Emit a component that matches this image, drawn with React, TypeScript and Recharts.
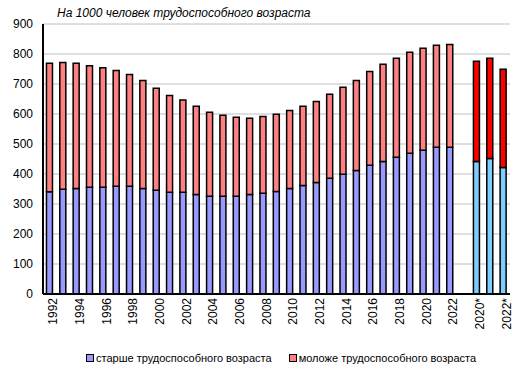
import { Bar, BarChart, CartesianGrid, Legend, XAxis, YAxis } from "recharts";

const categories = [
  "1992", "1993", "1994", "1995", "1996", "1997", "1998", "1999", "2000", "2001",
  "2002", "2003", "2004", "2005", "2006", "2007", "2008", "2009", "2010", "2011",
  "2012", "2013", "2014", "2015", "2016", "2017", "2018", "2019", "2020", "2021",
  "2022", "", "2020*", "2021*", "2022*",
];

// старше трудоспособного возраста (1992–2022)
const olderValues = [
  341, 349, 352, 356, 356, 359, 359, 352, 346, 339,
  339, 332, 326, 326, 326, 332, 336, 342, 352, 362,
  372, 386, 399, 412, 429, 442, 456, 469, 479, 489,
  489,
];

// моложе трудоспособного возраста (1992–2022)
const youngerValues = [
  428, 423, 417, 405, 398, 386, 373, 360, 340, 323,
  308, 294, 280, 270, 263, 254, 256, 257, 260, 264,
  270, 280, 290, 300, 313, 324, 330, 337, 340, 340,
  343,
];

// 2020*–2022*
const olderStarValues = [442, 452, 422];
const youngerStarValues = [334, 334, 327];

const yTicks = [0, 100, 200, 300, 400, 500, 600, 700, 800, 900];

const FONT = "'Liberation Sans', Arial, sans-serif";

const chartData = categories.map((year, i) => {
  const starIndex = i - 32;
  return {
    year,
    older: i < olderValues.length ? olderValues[i] : null,
    younger: i < youngerValues.length ? youngerValues[i] : null,
    olderStar: starIndex >= 0 ? olderStarValues[starIndex] : null,
    youngerStar: starIndex >= 0 ? youngerStarValues[starIndex] : null,
  };
});

const legendItems = [
  { label: "старше трудоспособного возраста", color: "#9999ff" },
  { label: "моложе трудоспособного возраста", color: "#ff8080" },
];

function ChartLegend() {
  return (
    <div
      style={{
        height: 28,
        display: "flex",
        justifyContent: "flex-start",
        alignItems: "center",
        paddingLeft: 86,
        gap: 17,
        fontFamily: FONT,
        fontSize: 11,
        color: "#000",
      }}
    >
      {legendItems.map((item) => (
        <span key={item.label} style={{ display: "flex", alignItems: "center" }}>
          <span
            style={{
              display: "inline-block",
              width: 6,
              height: 6,
              background: item.color,
              border: "1px solid #000",
              marginRight: 2,
            }}
          />
          {item.label}
        </span>
      ))}
    </div>
  );
}

export default function App() {
  return (
    <div style={{ position: "absolute", left: 0, top: 0, width: 523, height: 372, background: "#fff" }}>
      <style>{"body{margin:0}"}</style>
      <div
        style={{
          position: "absolute",
          left: 57,
          top: 6,
          fontFamily: FONT,
          fontStyle: "italic",
          fontSize: 12,
          color: "#000",
          whiteSpace: "nowrap",
        }}
      >
        На 1000 человек трудоспособного возраста
      </div>
      <BarChart
        width={523}
        height={372}
        data={chartData}
        margin={{ top: 24, right: 13, left: 0, bottom: 0 }}
        barCategoryGap="26%"
      >
        <CartesianGrid vertical={false} stroke="#c0c0c0" strokeWidth={1} />
        <XAxis
          dataKey="year"
          interval={1}
          tick={{ fill: "#000", fontSize: 12, fontFamily: FONT }}
          angle={-90}
          textAnchor="end"
          height={50}
          tickLine={false}
          axisLine={{ stroke: "#000", strokeWidth: 2 }}
          dy={-4}
          dx={-1}
        />
        <YAxis
          domain={[0, 900]}
          ticks={yTicks}
          interval={0}
          width={43}
          tick={{ fill: "#000", fontSize: 12, fontFamily: FONT }}
          tickLine={false}
          tickMargin={4}
          axisLine={{ stroke: "#000", strokeWidth: 2 }}
        />
        <YAxis
          yAxisId="frame"
          orientation="right"
          width={0}
          tick={false}
          tickLine={false}
          axisLine={{ stroke: "#808080", strokeWidth: 2 }}
        />
        <Legend verticalAlign="bottom" content={<ChartLegend />} />
        <Bar dataKey="older" stackId="a" fill="#9999ff" stroke="#000" strokeWidth={1.5} isAnimationActive={false} />
        <Bar dataKey="younger" stackId="a" fill="#ff8080" stroke="#000" strokeWidth={1.5} isAnimationActive={false} />
        <Bar dataKey="olderStar" stackId="a" fill="#80ccff" stroke="#000" strokeWidth={1.5} isAnimationActive={false} />
        <Bar dataKey="youngerStar" stackId="a" fill="#ff0000" stroke="#000" strokeWidth={1.5} isAnimationActive={false} />
      </BarChart>
    </div>
  );
}
